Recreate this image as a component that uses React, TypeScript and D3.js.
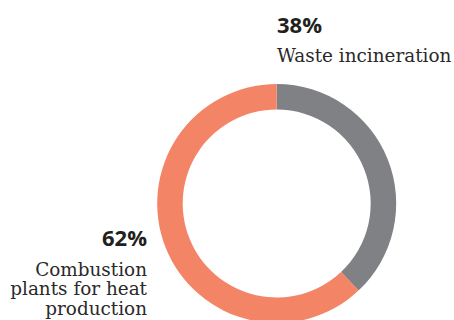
import React from "react";
import * as d3 from "d3";

const categories = ["Waste incineration", "Combustion plants for heat production"];
const values = [38, 62];
const colors = ["#808184", "#F48466"];
const labelLines0 = ["Waste incineration"];
const labelLines1 = ["Combustion", "plants for heat", "production"];

export default function App() {
  const width = 454;
  const height = 320;
  const cx = 276.7;
  const cy = 203.5;
  const outerR = 119.5;
  const innerR = 94;
  const pie = d3.pie<number>().sort(null).value((d) => d)(values);
  const arc = d3.arc<d3.PieArcDatum<number>>().innerRadius(innerR).outerRadius(outerR);
  const sansBold = "'Open Sans', 'DejaVu Sans', sans-serif";
  const serif = "'DejaVu Serif', serif";
  const fs = 18.4;
  return (
    <svg width={width} height={height} style={{ position: "absolute", left: 0, top: 0 }}>
      <g transform={`translate(${cx},${cy})`}>
        {pie.map((p, i) => (
          <path key={i} d={arc(p) || ""} fill={colors[i]} />
        ))}
      </g>
      <text x={277} y={33} fontFamily={sansBold} fontWeight={700} fontSize={22} fill="#231f20">
        {values[0]}%
      </text>
      <text fontFamily={serif} fontSize={fs} fill="#2b2829">
        {labelLines0.map((l, i) => (
          <tspan key={i} x={277} y={62 + i * 19.6}>{l}</tspan>
        ))}
      </text>
      <text x={147} y={246} textAnchor="end" fontFamily={sansBold} fontWeight={700} fontSize={22} fill="#231f20">
        {values[1]}%
      </text>
      <text textAnchor="end" fontFamily={serif} fontSize={fs} fill="#2b2829">
        {labelLines1.map((l, i) => (
          <tspan key={i} x={147} y={275.5 + i * 19.6}>{l}</tspan>
        ))}
      </text>
    </svg>
  );
}
